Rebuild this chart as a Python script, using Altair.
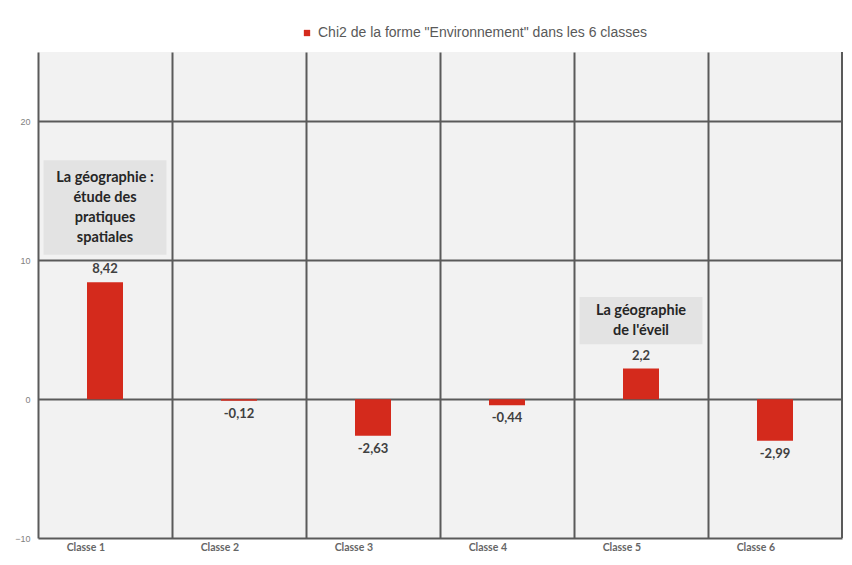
import altair as alt
import pandas as pd

categories = ["Classe 1", "Classe 2", "Classe 3", "Classe 4", "Classe 5", "Classe 6"]
values = [8.42, -0.12, -2.63, -0.44, 2.2, -2.99]
value_labels = ["8,42", "-0,12", "-2,63", "-0,44", "2,2", "-2,99"]
series_name = 'Chi2 de la forme "Environnement" dans les 6 classes'

note_categories = ["Classe 1", "Classe 5"]
note_texts = ["La géographie :\nétude des\npratiques\nspatiales", "La géographie\nde l'éveil"]
note_low = [10.4, 3.95]
note_high = [17.2, 7.35]

y_ticks = [-10, 0, 10, 20]

df = pd.DataFrame({"cat": categories, "val": values, "lab": value_labels, "serie": series_name})
notes = pd.DataFrame({"cat": note_categories, "txt": note_texts,
                      "lo": note_low, "hi": note_high,
                      "mid": [(a + b) / 2 for a, b in zip(note_low, note_high)]})

W, H = 804, 486
FONT_B = "Lato"
GRID = "#5a5a5a"
LINE_H = 20

x_enc = alt.X("cat:N", sort=categories, title=None,
              scale=alt.Scale(paddingInner=0, paddingOuter=0),
              axis=alt.Axis(bandPosition=0, grid=True, gridColor=GRID, gridWidth=2,
                            domain=False, ticks=False, labelAngle=0,
                            labelFont=FONT_B, labelFontWeight="bold", labelFontSize=10.5,
                            labelColor="#666666", labelPadding=9))
y_scale = alt.Scale(domain=[-10, 25], nice=False, zero=False)
y_enc = alt.Y("val:Q", scale=y_scale, title=None,
              axis=alt.Axis(values=y_ticks, grid=True, gridColor=GRID, gridWidth=2,
                            domain=False, ticks=False, labelFont="Liberation Sans",
                            labelFontSize=9, labelColor="#7f7f7f", labelPadding=8))

bars = alt.Chart(df).mark_bar(size=36).encode(
    x=x_enc, y=y_enc,
    color=alt.Color("serie:N", scale=alt.Scale(range=["#d42a1c"]), title=None,
                    legend=alt.Legend(orient="none", legendX=262, legendY=-26,
                                      symbolType="square", symbolSize=40, labelLimit=0,
                                      labelFont="Liberation Sans", labelFontSize=14,
                                      labelColor="#595959", symbolStrokeWidth=0)),
)

pos_labels = alt.Chart(df).transform_filter("datum.val >= 0").mark_text(
    baseline="bottom", dy=-6, font=FONT_B, fontWeight="bold", fontSize=13, color="#404040"
).encode(x=alt.X("cat:N", sort=categories), y=alt.Y("val:Q", scale=y_scale), text="lab:N")

neg_labels = alt.Chart(df).transform_filter("datum.val < 0").mark_text(
    baseline="top", dy=7, font=FONT_B, fontWeight="bold", fontSize=13, color="#404040"
).encode(x=alt.X("cat:N", sort=categories), y=alt.Y("val:Q", scale=y_scale), text="lab:N")

boxes = alt.Chart(notes).mark_bar(size=123, color="#e3e3e3").encode(
    x=alt.X("cat:N", sort=categories),
    y=alt.Y("lo:Q", scale=y_scale), y2="hi:Q")

note_layers = []
for i, t in enumerate(note_texts):
    n_lines = t.count("\n") + 1
    note_layers.append(
        alt.Chart(notes).transform_filter(alt.datum.cat == note_categories[i]).mark_text(
            baseline="middle", lineBreak="\n", lineHeight=LINE_H, font=FONT_B,
            fontWeight="bold", fontSize=14.5, color="#262626",
            dy=-(n_lines - 1) * LINE_H / 2
        ).encode(x=alt.X("cat:N", sort=categories), y=alt.Y("mid:Q", scale=y_scale),
                 text="txt:N")
    )

right_edge = alt.Chart(df).mark_rule(color=GRID, strokeWidth=2).encode(
    x=alt.value(W), y=alt.value(0), y2=alt.value(H))

chart = alt.layer(boxes, bars, pos_labels, neg_labels, *note_layers, right_edge).properties(
    width=W, height=H,
    autosize=alt.AutoSizeParams(type="none"),
    padding={"left": 30, "top": 44, "right": 2, "bottom": 18},
    background="white",
).configure_view(fill="#f2f2f2", stroke=None)

chart.save("out.html", embed_options={"renderer": "svg", "actions": False})
